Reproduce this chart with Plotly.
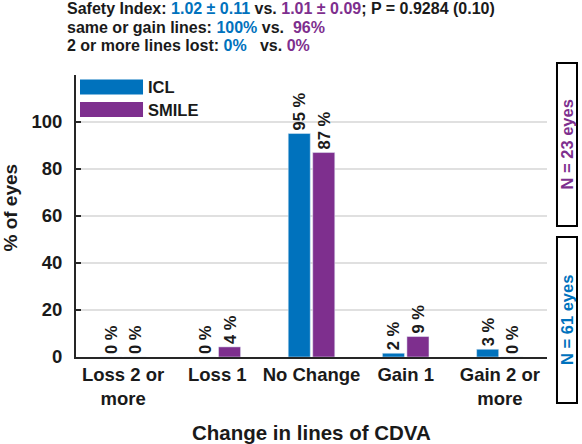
import plotly.graph_objects as go

categories = ["Loss 2 or<br>more", "Loss 1", "No Change", "Gain 1", "Gain 2 or<br>more"]
icl_values = [0, 0, 95.1, 1.6, 3.3]
smile_values = [0, 4.3, 87.0, 8.7, 0]
icl_labels = ["0 %", "0 %", "95 %", "2 %", "3 %"]
smile_labels = ["0 %", "4 %", "87 %", "9 %", "0 %"]
y_ticks = [0, 20, 40, 60, 80, 100]

BLUE = "#0072BD"
PURPLE = "#7E2F8E"
DARK = "#1a1a1a"
FONT = "Liberation Sans, Arial, sans-serif"

fig = go.Figure()
for name, vals, labs, col in [("ICL", icl_values, icl_labels, BLUE),
                              ("SMILE", smile_values, smile_labels, PURPLE)]:
    fig.add_trace(go.Bar(name=name, x=categories, y=vals, marker_color=col,
                         text=labs, textposition="outside", textangle=-90,
                         constraintext="none", cliponaxis=False,
                         textfont=dict(size=16.5, color=DARK, family=FONT, weight="bold")))

fig.update_layout(
    width=582, height=444,
    margin=dict(l=76, r=35, t=75, b=87),
    plot_bgcolor="white", paper_bgcolor="white",
    barmode="group", bargap=0.48, bargroupgap=0.1,
    showlegend=False,
    font=dict(family=FONT, color=DARK),
)
fig.update_yaxes(range=[0, 120], tickvals=y_ticks + [120], ticktext=[str(v) for v in y_ticks] + [""],
                 ticks="inside", ticklen=5, tickwidth=2, tickcolor="#262626",
                 showline=True, linewidth=2, linecolor="#262626",
                 showgrid=True, gridcolor="#e0e0e0", gridwidth=1.5,
                 tickfont=dict(size=18.5, family=FONT, color=DARK, weight="bold"),
                 ticklabelstandoff=8, zeroline=False)
fig.update_xaxes(showline=True, linewidth=2, linecolor="#262626", ticks="",
                 tickfont=dict(size=18.5, family=FONT, color=DARK, weight="bold"))

# axis titles
fig.add_annotation(text="Change in lines of CDVA", xref="paper", yref="paper", x=0.499, y=-0.266,
                   showarrow=False, xanchor="center", yanchor="middle",
                   font=dict(size=20.5, family=FONT, color=DARK, weight="bold"))
fig.add_annotation(text="% of eyes", xref="paper", yref="paper", x=-0.138, y=0.53, textangle=-90,
                   showarrow=False, xanchor="center", yanchor="middle",
                   font=dict(size=19, family=FONT, color=DARK, weight="bold"))

# header lines
title_lines = [
    f"Safety Index: <span style='color:{BLUE}'>1.02 ± 0.11</span> vs. <span style='color:{PURPLE}'>1.01 ± 0.09</span>; P = 0.9284 (0.10)",
    f"same or gain lines: <span style='color:{BLUE}'>100%</span> vs.  <span style='color:{PURPLE}'>96%</span>",
    f"2 or more lines lost: <span style='color:{BLUE}'>0%</span>   vs. <span style='color:{PURPLE}'>0%</span>",
]
for line, yp in zip(title_lines, [1.2358, 1.1702, 1.1046]):
    fig.add_annotation(text=line, xref="paper", yref="paper", x=-0.0223, y=yp, showarrow=False,
                       xanchor="left", yanchor="middle",
                       font=dict(size=16, family=FONT, color=DARK, weight="bold"))

# legend
legend_items = [("ICL", BLUE, 0.984, 0.931), ("SMILE", PURPLE, 0.904, 0.851)]
for name, col, y1, y0 in legend_items:
    fig.add_shape(type="rect", xref="paper", yref="paper", x0=0.0085, x1=0.1423, y0=y0, y1=y1,
                  fillcolor=col, line=dict(width=0))
    fig.add_annotation(text=name, xref="paper", yref="paper", x=0.1486, y=(y0 + y1) / 2,
                       showarrow=False, xanchor="left", yanchor="middle",
                       font=dict(size=16.5, family=FONT, color=DARK, weight="bold"))

# N boxes
n_boxes = [("N = 23 eyes", PURPLE, 1.0426, 0.4645), ("N = 61 eyes", BLUE, 0.4255, -0.163)]
for txt, col, y1, y0 in n_boxes:
    fig.add_shape(type="rect", xref="paper", yref="paper", x0=1.0212, x1=1.0637, y0=y0, y1=y1,
                  line=dict(color="black", width=2), fillcolor="white")
    fig.add_annotation(text=txt, xref="paper", yref="paper", x=1.0425, y=(y0 + y1) / 2,
                       textangle=-90, showarrow=False, xanchor="center", yanchor="middle",
                       font=dict(size=16.5, family=FONT, color=col, weight="bold"))

fig.write_html("out.html")
